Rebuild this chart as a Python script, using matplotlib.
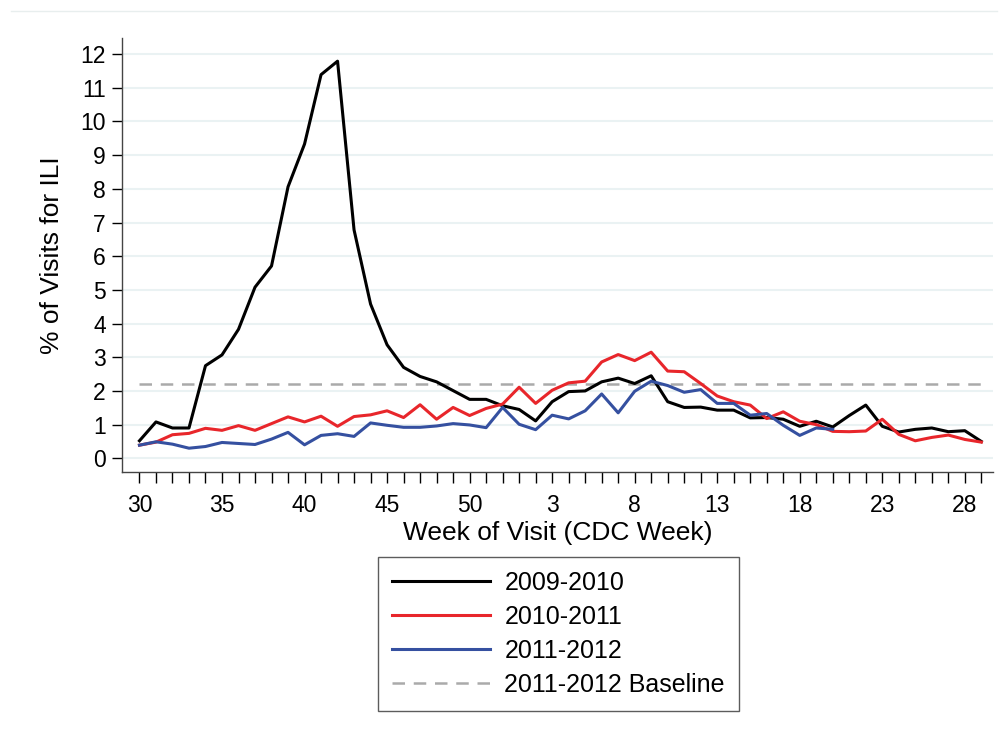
import matplotlib
matplotlib.use("Agg")
import matplotlib.pyplot as plt
import numpy as np

plt.rcParams['font.family'] = ['Liberation Sans', 'DejaVu Sans']

# CDC weeks 30..52 then 1..29
weeks = list(range(30, 53)) + list(range(1, 30))

ili_0910 = [0.52, 1.08, 0.90, 0.90, 2.75, 3.07, 3.83, 5.08, 5.71, 8.06,
            9.33, 11.39, 11.79, 6.78, 4.58, 3.37, 2.70, 2.43, 2.27, 2.01,
            1.75, 1.75, 1.56, 1.45, 1.11, 1.68, 1.98, 2.00, 2.27, 2.38,
            2.22, 2.45, 1.68, 1.51, 1.52, 1.43, 1.43, 1.20, 1.21, 1.16,
            0.95, 1.10, 0.93, 1.27, 1.58, 0.95, 0.78, 0.86, 0.90, 0.79,
            0.82, 0.50]
ili_1011 = [0.39, 0.48, 0.70, 0.74, 0.89, 0.83, 0.97, 0.83, 1.03, 1.23,
            1.08, 1.25, 0.95, 1.24, 1.29, 1.41, 1.21, 1.59, 1.16, 1.51,
            1.27, 1.48, 1.61, 2.11, 1.63, 2.02, 2.24, 2.29, 2.86, 3.08,
            2.90, 3.15, 2.59, 2.57, 2.22, 1.85, 1.68, 1.58, 1.18, 1.38,
            1.10, 1.00, 0.80, 0.79, 0.81, 1.16, 0.71, 0.52, 0.62, 0.69,
            0.56, 0.48]
ili_1112 = [0.39, 0.49, 0.42, 0.30, 0.35, 0.47, 0.44, 0.41, 0.57, 0.77,
            0.40, 0.68, 0.73, 0.65, 1.05, 0.98, 0.92, 0.92, 0.96, 1.03,
            0.99, 0.91, 1.51, 1.01, 0.85, 1.28, 1.17, 1.41, 1.91, 1.35,
            1.99, 2.29, 2.16, 1.96, 2.04, 1.63, 1.63, 1.28, 1.33, 0.98,
            0.68, 0.90, 0.86]
baseline_1112 = 2.2

x = np.arange(len(weeks))

fig = plt.figure(figsize=(10.08, 7.36), dpi=100)
ax = fig.add_axes([0.121, 0.359, 0.864, 0.589])

ax.plot(x, ili_0910, color='black', lw=2.2, label='2009-2010', zorder=3)
ax.plot(x, ili_1011, color='#e8262b', lw=2.2, label='2010-2011', zorder=3)
ax.plot(x[:len(ili_1112)], ili_1112, color='#3550a0', lw=2.2, label='2011-2012', zorder=3)
ax.plot([x[0], x[-1]], [baseline_1112, baseline_1112], color='#aaaaaa', lw=1.8,
        dashes=(5, 3.5), label='2011-2012 Baseline', zorder=2)

ax.set_xlim(-1.06, 51.7)
ax.set_ylim(-0.4, 12.47)
ax.set_yticks(range(0, 13))
ax.yaxis.grid(True, color='#eaf2f3', lw=1.5)
ax.set_axisbelow(True)

ax.set_xticks(x, minor=True)
ax.set_xticks(x[::5])
ax.set_xticklabels([str(w) for w in weeks[::5]])
ax.tick_params(axis='x', which='both', length=8, width=1.0, direction='out', pad=8)
ax.tick_params(axis='y', length=7.5, width=1.0, pad=4)
ax.tick_params(labelsize=16.5)

for s in ['top', 'right']:
    ax.spines[s].set_visible(False)
for s in ['left', 'bottom']:
    ax.spines[s].set_color('#444444')
    ax.spines[s].set_linewidth(1.0)

ax.set_xlabel('Week of Visit (CDC Week)', fontsize=19, labelpad=3)
ax.set_ylabel('% of Visits for ILI', fontsize=19, labelpad=12)

leg = ax.legend(loc='upper center', bbox_to_anchor=(0.5 * (374 + 743) / 1008, 1 - 557 / 736),
                bbox_transform=fig.transFigure, ncol=1, fontsize=18, frameon=True,
                fancybox=False, edgecolor='#333333', handlelength=3.9, handletextpad=0.6,
                borderpad=0.55, labelspacing=0.4, borderaxespad=0)
leg.get_frame().set_linewidth(1.0)

fig.add_artist(plt.Line2D([11 / 1008, 997 / 1008], [1 - 11 / 736, 1 - 11 / 736],
                          color='#e8eeee', lw=1))

fig.savefig('out.png', dpi=100, facecolor='white')
